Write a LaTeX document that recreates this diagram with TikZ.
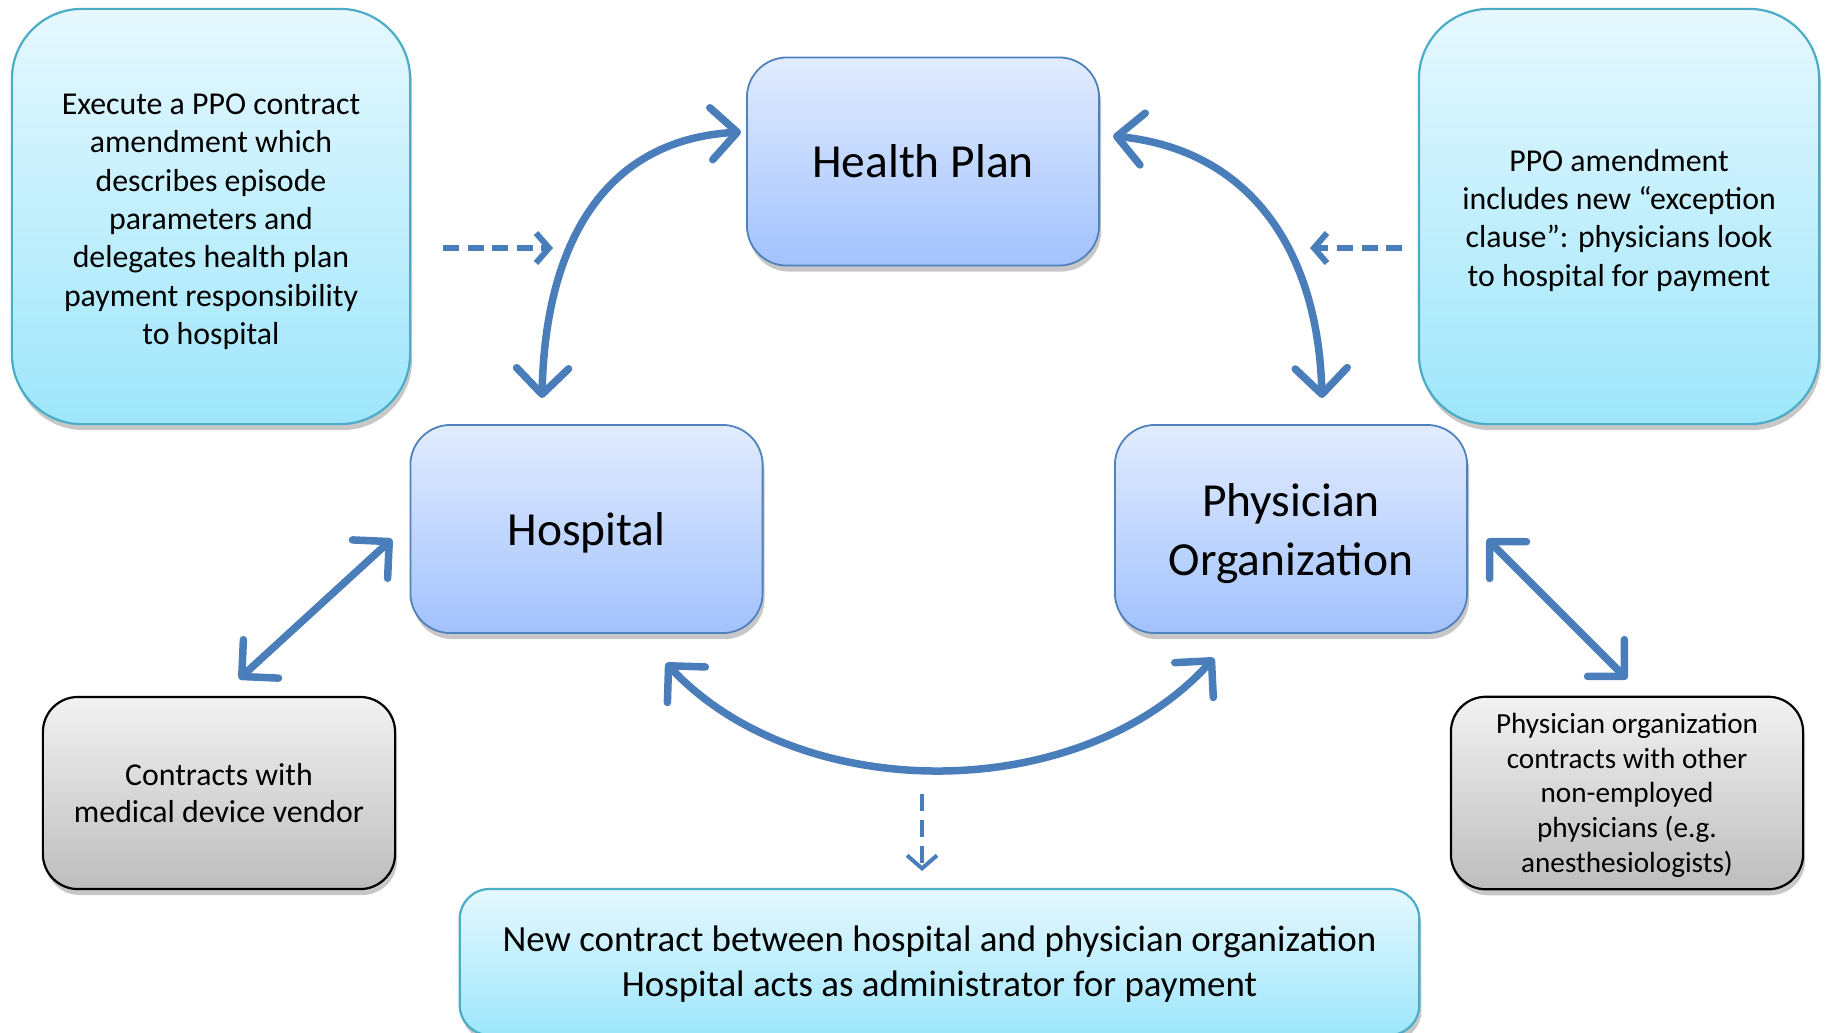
\documentclass[tikz,border=0pt]{standalone}
\usepackage{fontspec}
\setmainfont{Carlito}
\usepackage{tikz}
\usetikzlibrary{arrows.meta,shadows}

\definecolor{linkblue}{HTML}{4A7EBB}
\definecolor{partyline}{HTML}{4F81BD}
\definecolor{partytop}{HTML}{E2ECFE}
\definecolor{partybot}{HTML}{A2C2FD}
\definecolor{noteline}{HTML}{4BACC6}
\definecolor{notetop}{HTML}{E6F8FE}
\definecolor{notebot}{HTML}{9EE6FB}
\definecolor{greytop}{HTML}{F2F2F2}
\definecolor{greybot}{HTML}{BDBDBD}

% strut on a first line: lowers the whole text by half of #1
\newcommand{\dropby}[1]{\rule{0pt}{\dimexpr\fontcharht\font`l+#1\relax}}

\begin{document}
\begin{tikzpicture}[x=0.01cm,y=-0.01cm,
  softshadow/.style={drop shadow={shadow xshift=0.02cm,shadow yshift=-0.06cm,fill=black,opacity=0.22}},
  party/.style={draw=partyline,line width=0.018cm,rounded corners=0.4cm,
    top color=partytop,bottom color=partybot,minimum width=3.52cm,minimum height=2.08cm,
    align=center,font=\fontsize{13.5}{16.6}\selectfont,softshadow},
  note/.style={draw=noteline,line width=0.022cm,rounded corners=0.7cm,
    top color=notetop,bottom color=notebot,minimum width=3.98cm,minimum height=4.15cm,
    align=center,font=\fontsize{9.05}{10.9}\selectfont,softshadow},
  greynote/.style={draw=black,line width=0.022cm,rounded corners=0.35cm,
    top color=greytop,bottom color=greybot,minimum width=3.52cm,minimum height=1.92cm,
    align=center,softshadow},
  link/.style={draw=linkblue,line width=0.075cm,line cap=round,
    {Straight Barb[round,length=0.26cm,width=0.52cm]}-{Straight Barb[round,length=0.26cm,width=0.52cm]}},
  hint/.style={draw=linkblue,line width=0.06cm,dash pattern=on 0.16cm off 0.085cm,
    -{Straight Barb[length=0.13cm,width=0.3cm]}}]

\useasboundingbox (0,0) rectangle (1825,1032);

% the three parties
\node[party] (health) at (923,161.5) {Health Plan};
\node[party] (hospital) at (586.5,529) {\dropby{2pt}Hospital};
\node[party] (physorg) at (1291,529) {\dropby{2.6pt}Physician\\Organization};

% notes
\node[note] (amend) at (211,216.5) {\dropby{2.6pt}Execute a PPO contract\\amendment which\\describes episode\\parameters and\\delegates health plan\\payment responsibility\\to hospital};
\node[note,minimum width=4cm] (clause) at (1619,216.5) {\dropby{2pt}PPO amendment\\includes new “exception\\clause”: physicians look\\to hospital for payment};
\node[greynote,font=\fontsize{9.05}{10.6}\selectfont] (vendor) at (219,793) {Contracts with\\medical device vendor};
\node[greynote,font=\fontsize{8.3}{9.9}\selectfont] (others) at (1627,793) {\dropby{1.3pt}Physician organization\\contracts with other\\non-employed\\physicians (e.g.\\anesthesiologists)};
\node[draw=noteline,line width=0.022cm,rounded corners=0.3cm,top color=notetop,bottom color=notebot,
  minimum width=9.59cm,minimum height=1.46cm,align=center,font=\fontsize{10.5}{12.9}\selectfont,softshadow]
  (contract) at (939.5,962) {\dropby{1.3pt}New contract between hospital and physician organization\\Hospital acts as administrator for payment};

% arrow ends
\coordinate (hpW) at (741,132);
\coordinate (hpE) at (1113,136);
\coordinate (hospN) at (542,398);
\coordinate (poN) at (1322,398);
\coordinate (hospS) at (666,663);
\coordinate (poS) at (1214,658);
\coordinate (hospW) at (392,539);
\coordinate (vendorN) at (239,679);
\coordinate (poE) at (1487,539);
\coordinate (othersN) at (1627,679);
\coordinate (amendE) at (443,248);
\coordinate (amendT) at (553,248);
\coordinate (clauseW) at (1402,248);
\coordinate (clauseT) at (1310,248);
\coordinate (arcB) at (922,794);
\coordinate (contractN) at (922,871);

\draw[link] (hospN) .. controls (545,250) and (600,140) .. (hpW);
\draw[link] (hpE) .. controls (1250,150) and (1318,250) .. (poN);
\draw[link] (hospS) .. controls (800,806) and (1080,806) .. (poS);
\draw[link] (hospW) -- (vendorN);
\draw[link] (poE) -- (othersN);

\draw[hint] (amendE) -- (amendT);
\draw[hint] (clauseW) -- (clauseT);
\draw[hint,line width=0.04cm,dash pattern=on 0.17cm off 0.09cm] (arcB) -- (contractN);
\end{tikzpicture}
\end{document}
